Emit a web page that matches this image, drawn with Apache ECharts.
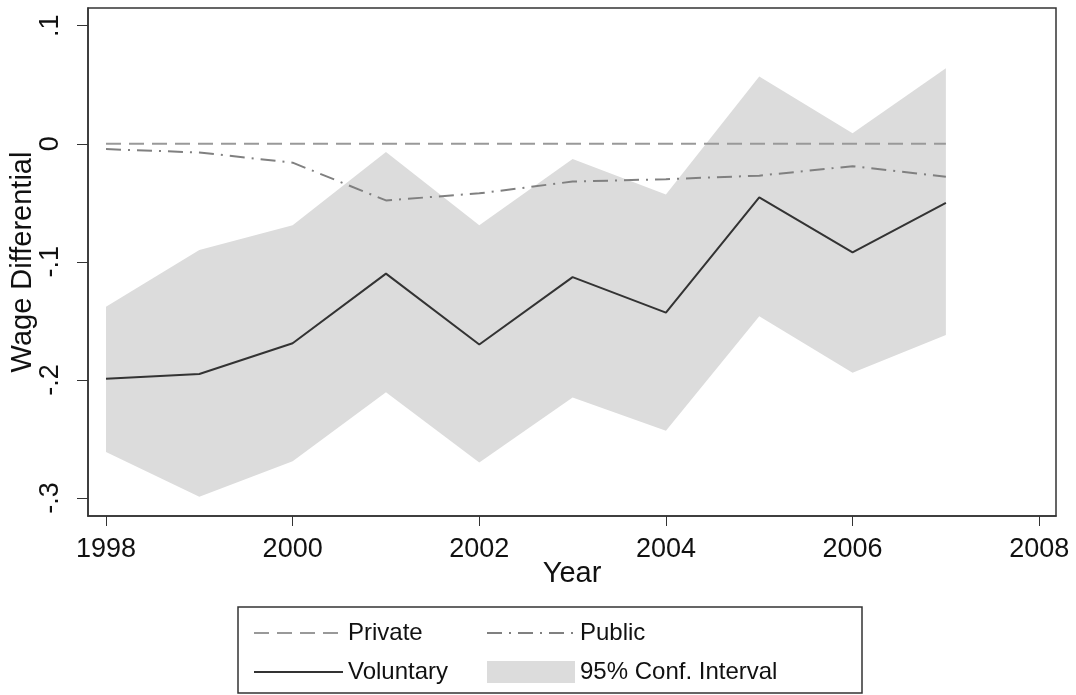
<!DOCTYPE html>
<html>
<head>
<meta charset="utf-8">
<script src="https://cdn.jsdelivr.net/npm/echarts@6/dist/echarts.min.js"></script>
<style>
html, body { margin: 0; padding: 0; background: #fff; }
#main { width: 1076px; height: 695px; }
</style>
</head>
<body>
<div id="main"></div>
<script>
const years = [1998, 1999, 2000, 2001, 2002, 2003, 2004, 2005, 2006, 2007]
const privateDiff = [0, 0, 0, 0, 0, 0, 0, 0, 0, 0]
const publicDiff = [-0.0045, -0.0074, -0.016, -0.048, -0.042, -0.032, -0.030, -0.027, -0.019, -0.028]
const voluntaryDiff = [-0.199, -0.195, -0.169, -0.110, -0.170, -0.113, -0.143, -0.0455, -0.092, -0.050]
const ciUpper = [-0.138, -0.090, -0.069, -0.007, -0.069, -0.013, -0.043, 0.057, 0.009, 0.064]
const ciLower = [-0.261, -0.299, -0.269, -0.2105, -0.270, -0.215, -0.243, -0.146, -0.194, -0.162]
const xTicks = [1998, 2000, 2002, 2004, 2006, 2008]
const yTicks = [-0.3, -0.2, -0.1, 0, 0.1]

const font = '"Liberation Sans", Arial, sans-serif'
const pair = (vals) => years.map((y, i) => [y, vals[i]])
const bandColor = '#dcdcdc'

const chart = echarts.init(document.getElementById('main'))

// polygon: upper edge left to right, lower edge back right to left
const renderBand = (params, api) => {
  if (params.dataIndex !== 0) return null
  const pts = []
  years.forEach((y, i) => pts.push(api.coord([y, ciUpper[i]])))
  for (let i = years.length - 1; i >= 0; i--) pts.push(api.coord([years[i], ciLower[i]]))
  return {
    type: 'polygon',
    shape: { points: pts },
    style: { fill: bandColor, stroke: null },
  }
}

const option = {
  animation: false,
  backgroundColor: '#fff',
  textStyle: { fontFamily: font },
  grid: {
    left: 88,
    right: 20,
    top: 8,
    bottom: 179,
    outerBoundsMode: 'none',
    show: true,
    borderColor: '#333',
    borderWidth: 1.5,
  },
  xAxis: {
    type: 'value',
    min: 1997.807,
    max: 2008.18,
    name: 'Year',
    nameLocation: 'middle',
    nameGap: 43,
    nameMoveOverlap: false,
    nameTextStyle: { fontSize: 29, color: '#111', fontFamily: font },
    axisLine: { show: true, onZero: false, lineStyle: { color: '#333', width: 1.5 } },
    axisTick: { show: true, length: 10, customValues: xTicks, lineStyle: { color: '#333' } },
    axisLabel: {
      customValues: xTicks,
      fontSize: 27,
      color: '#111',
      margin: 20,
      fontFamily: font,
      formatter: (v) => String(v),
    },
    splitLine: { show: false },
  },
  yAxis: {
    type: 'value',
    min: -0.3153,
    max: 0.115,
    name: 'Wage Differential',
    nameLocation: 'middle',
    nameGap: 51,
    nameMoveOverlap: false,
    nameTextStyle: { fontSize: 29, color: '#111', fontFamily: font },
    axisLine: { show: true, onZero: false, lineStyle: { color: '#333', width: 1.5 } },
    axisTick: { show: true, length: 11, customValues: yTicks, lineStyle: { color: '#333' } },
    axisLabel: {
      customValues: yTicks,
      rotate: 90,
      fontSize: 27,
      color: '#111',
      margin: 24,
      fontFamily: font,
      formatter: (v) => (v === 0 ? '0' : String(v).replace('0.', '.')),
    },
    splitLine: { show: false },
  },
  legend: [
    {
      orient: 'vertical',
      left: 248,
      top: 616,
      itemWidth: 89,
      itemHeight: 22,
      itemGap: 15,
      itemStyle: { opacity: 0 },
      textStyle: { fontSize: 24, color: '#111', fontFamily: font },
      data: ['Private', 'Voluntary'],
    },
    {
      orient: 'vertical',
      left: 481,
      top: 616,
      itemWidth: 88,
      itemHeight: 22,
      itemGap: 15,
      itemStyle: { opacity: 0 },
      textStyle: { fontSize: 24, color: '#111', fontFamily: font },
      data: ['Public', { name: '95% Conf. Interval', icon: 'rect', itemStyle: { color: bandColor, opacity: 1 } }],
    },
  ],
  graphic: [
    {
      type: 'rect',
      shape: { x: 238, y: 607, width: 624, height: 86 },
      style: { fill: 'none', stroke: '#333', lineWidth: 1.5 },
      silent: true,
    },
  ],
  series: [
    {
      name: '95% Conf. Interval',
      type: 'custom',
      renderItem: renderBand,
      data: pair(ciUpper),
      color: bandColor,
      clip: true,
      silent: true,
    },
    {
      name: 'Private',
      type: 'line',
      data: pair(privateDiff),
      showSymbol: false,
      color: '#999',
      lineStyle: { color: '#999', width: 2, type: [15, 8] },
    },
    {
      name: 'Public',
      type: 'line',
      data: pair(publicDiff),
      showSymbol: false,
      color: '#808080',
      lineStyle: { color: '#808080', width: 2, type: [15, 7, 2, 7] },
    },
    {
      name: 'Voluntary',
      type: 'line',
      data: pair(voluntaryDiff),
      showSymbol: false,
      color: '#333',
      lineStyle: { color: '#333', width: 2 },
    },
  ],
}

chart.setOption(option)
</script>
</body>
</html>
